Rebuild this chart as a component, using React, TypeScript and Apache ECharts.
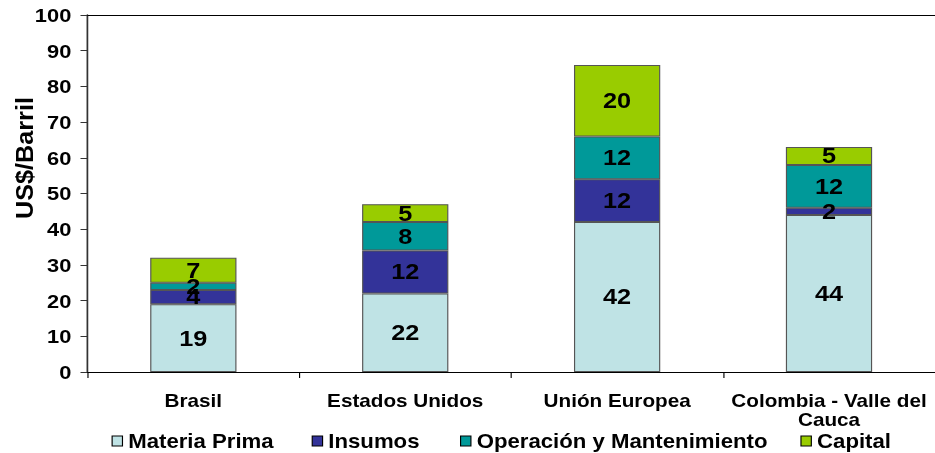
import React, { useEffect, useRef } from "react";
import * as echarts from "echarts";

const categories = ["Brasil", "Estados Unidos", "Unión Europea", "Colombia - Valle del Cauca"];
const materiaPrima = [19, 22, 42, 44];
const insumos = [4, 12, 12, 2];
const operacion = [2, 8, 12, 12];
const capital = [7, 5, 20, 5];
const seriesNames = ["Materia Prima", "Insumos", "Operación y Mantenimiento", "Capital"];
const seriesColors = ["#BFE3E5", "#333399", "#009999", "#99CC00"];
const yTicks = { min: 0, max: 100, interval: 10 };

const STRETCH = 1.15;
const FONT = '"Liberation Sans", Arial, sans-serif';
const legendLefts = [97, 271, 400, 696];

export default function App() {
  const ref = useRef<HTMLDivElement>(null);
  useEffect(() => {
    if (!ref.current) return;
    const chart = echarts.init(ref.current, null, { renderer: "svg" });
    const values = [materiaPrima, insumos, operacion, capital];
    const option = {
      animation: false,
      textStyle: { fontFamily: FONT },
      grid: { left: 76, top: 15, width: 741, height: 357, containLabel: false },
      legend: seriesNames.map((name, i) => ({
        data: [name],
        left: legendLefts[i],
        top: 431,
        padding: 0,
        itemWidth: 9,
        itemHeight: 10,
        icon: "rect",
        itemStyle: { borderColor: "#000", borderWidth: 1 },
        textStyle: { fontFamily: FONT, fontSize: 19.3, lineHeight: 20, fontWeight: "bold", color: "#000" },
      })),
      xAxis: [
        {
          type: "category",
          data: categories,
          axisLine: { show: true, lineStyle: { color: "#000", width: 1 } },
          axisTick: { show: true, length: 6, lineStyle: { color: "#000" } },
          axisLabel: {
            interval: 0,
            margin: 18,
            fontFamily: FONT,
            fontSize: 18,
            fontWeight: "bold",
            color: "#000",
            lineHeight: 20,
            formatter: (v: string) => v.replace(" Cauca", "\nCauca"),
          },
        },
        {
          type: "category",
          position: "top",
          data: categories,
          axisLine: { show: true, lineStyle: { color: "#000", width: 1 } },
          axisTick: { show: false },
          axisLabel: { show: false },
        },
      ],
      yAxis: {
        type: "value",
        min: yTicks.min,
        max: yTicks.max,
        interval: yTicks.interval,
        splitLine: { show: false },
        axisLine: { show: true, lineStyle: { color: "#333", width: 1.5 } },
        axisTick: { show: true, length: 6, lineStyle: { color: "#333" } },
        axisLabel: {
          margin: 14,
          fontFamily: FONT,
          fontSize: 19,
          fontWeight: "bold",
          color: "#000",
        },
      },
      graphic: [
        {
          type: "text",
          x: 21.7,
          y: 158,
          rotation: Math.PI / 2,
          scaleX: 1.2,
          scaleY: 1,
          style: {
            text: "US$/Barril",
            fontFamily: FONT,
            fontSize: 21,
            fontWeight: "bold",
            fill: "#000",
            align: "center",
            verticalAlign: "middle",
          },
        },
      ],
      series: seriesNames.map((name, i) => ({
        name,
        type: "bar",
        stack: "total",
        barWidth: 75,
        data: values[i],
        itemStyle: { color: seriesColors[i], borderColor: "#555", borderWidth: 1 },
        label: {
          show: true,
          position: "inside",
          fontFamily: FONT,
          fontSize: 22,
          fontWeight: "bold",
          color: "#000",
        },
      })),
    };
    chart.setOption(option as any);
    return () => chart.dispose();
  }, []);
  return (
    <div
      ref={ref}
      style={{
        position: "fixed",
        left: 0,
        top: 0,
        width: 813,
        height: 453,
        transform: `scaleX(${STRETCH})`,
        transformOrigin: "0 0",
      }}
    />
  );
}
